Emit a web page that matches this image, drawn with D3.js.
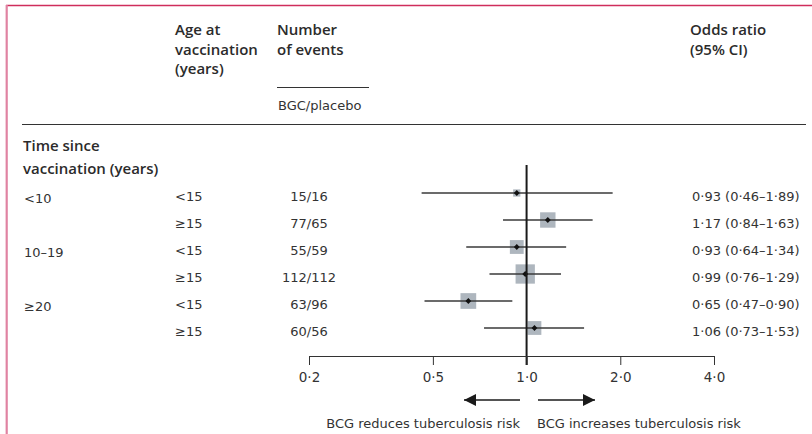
<!DOCTYPE html>
<html>
<head>
<meta charset="utf-8">
<script src="https://cdn.jsdelivr.net/npm/d3@7"></script>
<style>
  body { margin: 0; background: #fff; }
  svg { display: block; font-family: "DejaVu Sans", "Noto Sans", sans-serif; }
  .hd { font-family: "Open Sans", "Noto Sans", sans-serif; font-weight: 600; font-size: 15px; fill: #2b2b2b; }
  .tx { font-size: 13px; fill: #333; }
</style>
</head>
<body>
<svg width="812" height="434"></svg>
<script>
// rows of the table
const groups = ["<10", "", "10–19", "", "≥20", ""];
const ages = ["<15", "≥15", "<15", "≥15", "<15", "≥15"];
const events = ["15/16", "77/65", "55/59", "112/112", "63/96", "60/56"];
const oddsRatio = [0.93, 1.17, 0.93, 0.99, 0.65, 1.06];
const ciLow = [0.46, 0.84, 0.64, 0.76, 0.47, 0.73];
const ciHigh = [1.89, 1.63, 1.34, 1.29, 0.90, 1.53];
const tickValues = [0.2, 0.5, 1, 2, 4];

const svg = d3.select("svg");
const dot = s => s.replace(/\./g, "·");
const fmt = v => dot(d3.format(".2f")(v));

const rows = oddsRatio.map((v, i) => ({
  i, group: groups[i], age: ages[i], ev: events[i], or: v, lo: ciLow[i], hi: ciHigh[i],
  // inverse variance weight from CI width
  w: 1 / Math.pow((Math.log(ciHigh[i]) - Math.log(ciLow[i])) / 3.92, 2)
}));

const x = d3.scaleLog().domain([0.2, 4]).range([309, 714]);
const y = d3.scalePoint().domain(d3.range(rows.length)).range([193, 328]);
const size = d3.scaleSqrt().domain([0, d3.max(rows, d => d.w)]).range([0, 19.3]);

// frame
svg.append("line").attr("x1", 6).attr("x2", 812).attr("y1", 5.5).attr("y2", 5.5)
  .attr("stroke", "#cf2d5c").attr("stroke-width", 1.6);
svg.append("line").attr("x1", 6.7).attr("x2", 6.7).attr("y1", 5).attr("y2", 434)
  .attr("stroke", "#e083a2").attr("stroke-width", 2.2);

// header
const head = [
  { x: 175, lines: ["Age at", "vaccination", "(years)"] },
  { x: 277, lines: ["Number", "of events"] },
  { x: 690, lines: ["Odds ratio", "(95% CI)"] }
];
head.forEach(h => {
  h.lines.forEach((t, k) => {
    svg.append("text").attr("class", "hd").attr("x", h.x).attr("y", 35 + k * 19.5).text(t);
  });
});
svg.append("line").attr("x1", 277).attr("x2", 369).attr("y1", 87.5).attr("y2", 87.5)
  .attr("stroke", "#333").attr("stroke-width", 1);
svg.append("text").attr("class", "tx").attr("x", 278).attr("y", 110).text("BGC/placebo");
svg.append("line").attr("x1", 22).attr("x2", 806).attr("y1", 124.5).attr("y2", 124.5)
  .attr("stroke", "#333").attr("stroke-width", 1);
svg.append("text").attr("class", "hd").attr("x", 23).attr("y", 151).text("Time since");
svg.append("text").attr("class", "hd").attr("x", 23).attr("y", 174).text("vaccination (years)");

// table text
const r = svg.append("g").selectAll("g").data(rows).join("g")
  .attr("transform", d => `translate(0,${y(d.i)})`);
r.append("text").attr("class", "tx").attr("x", 24).attr("y", 10).text(d => d.group);
r.append("text").attr("class", "tx").attr("x", 175).attr("y", 8).text(d => d.age);
r.append("text").attr("class", "tx").attr("x", 309).attr("y", 8).attr("text-anchor", "middle").text(d => d.ev);
r.append("text").attr("class", "tx").attr("x", 692).attr("y", 8)
  .text(d => `${fmt(d.or)} (${fmt(d.lo)}–${fmt(d.hi)})`);

// squares, then CI lines and diamonds on top
r.append("rect")
  .attr("x", d => x(d.or) - size(d.w) / 2).attr("y", d => -size(d.w) / 2)
  .attr("width", d => size(d.w)).attr("height", d => size(d.w))
  .attr("fill", "#aeb6be");
r.append("line").attr("x1", d => x(d.lo)).attr("x2", d => x(d.hi))
  .attr("stroke", "#3a3a3a").attr("stroke-width", 1.3);

// reference line at 1
svg.append("line").attr("x1", x(1)).attr("x2", x(1)).attr("y1", 165).attr("y2", 365)
  .attr("stroke", "#1a1a1a").attr("stroke-width", 2);

r.append("path").attr("d", d3.symbol(d3.symbolSquare, 17))
  .attr("transform", d => `translate(${x(d.or)},0) rotate(45)`).attr("fill", "#111");

// axis
const ax = svg.append("g").attr("transform", "translate(0,356)")
  .call(d3.axisBottom(x).tickValues(tickValues).tickSize(9).tickSizeOuter(0).tickPadding(7)
    .tickFormat(v => dot(d3.format(".1f")(v))));
ax.selectAll("path, line").attr("stroke", "#333");
ax.selectAll("text").attr("font-size", 13.5).attr("font-family", "DejaVu Sans, Noto Sans, sans-serif").attr("fill", "#333");

// direction arrows
const ay = 400;
svg.append("defs").append("marker").attr("id", "ah").attr("viewBox", "0 0 10 10")
  .attr("refX", 10).attr("refY", 5).attr("markerWidth", 16).attr("markerHeight", 12)
  .attr("markerUnits", "userSpaceOnUse").attr("orient", "auto")
  .append("path").attr("d", "M0,0L10,5L0,10Z").attr("fill", "#1a1a1a");
svg.append("line").attr("x1", 520).attr("x2", 464).attr("y1", ay).attr("y2", ay)
  .attr("stroke", "#1a1a1a").attr("stroke-width", 1.5).attr("marker-end", "url(#ah)");
svg.append("line").attr("x1", 538).attr("x2", 595).attr("y1", ay).attr("y2", ay)
  .attr("stroke", "#1a1a1a").attr("stroke-width", 1.5).attr("marker-end", "url(#ah)");
svg.append("text").attr("class", "tx").attr("x", 520).attr("y", 428).attr("text-anchor", "end")
  .text("BCG reduces tuberculosis risk");
svg.append("text").attr("class", "tx").attr("x", 537).attr("y", 428)
  .text("BCG increases tuberculosis risk");
</script>
</body>
</html>
